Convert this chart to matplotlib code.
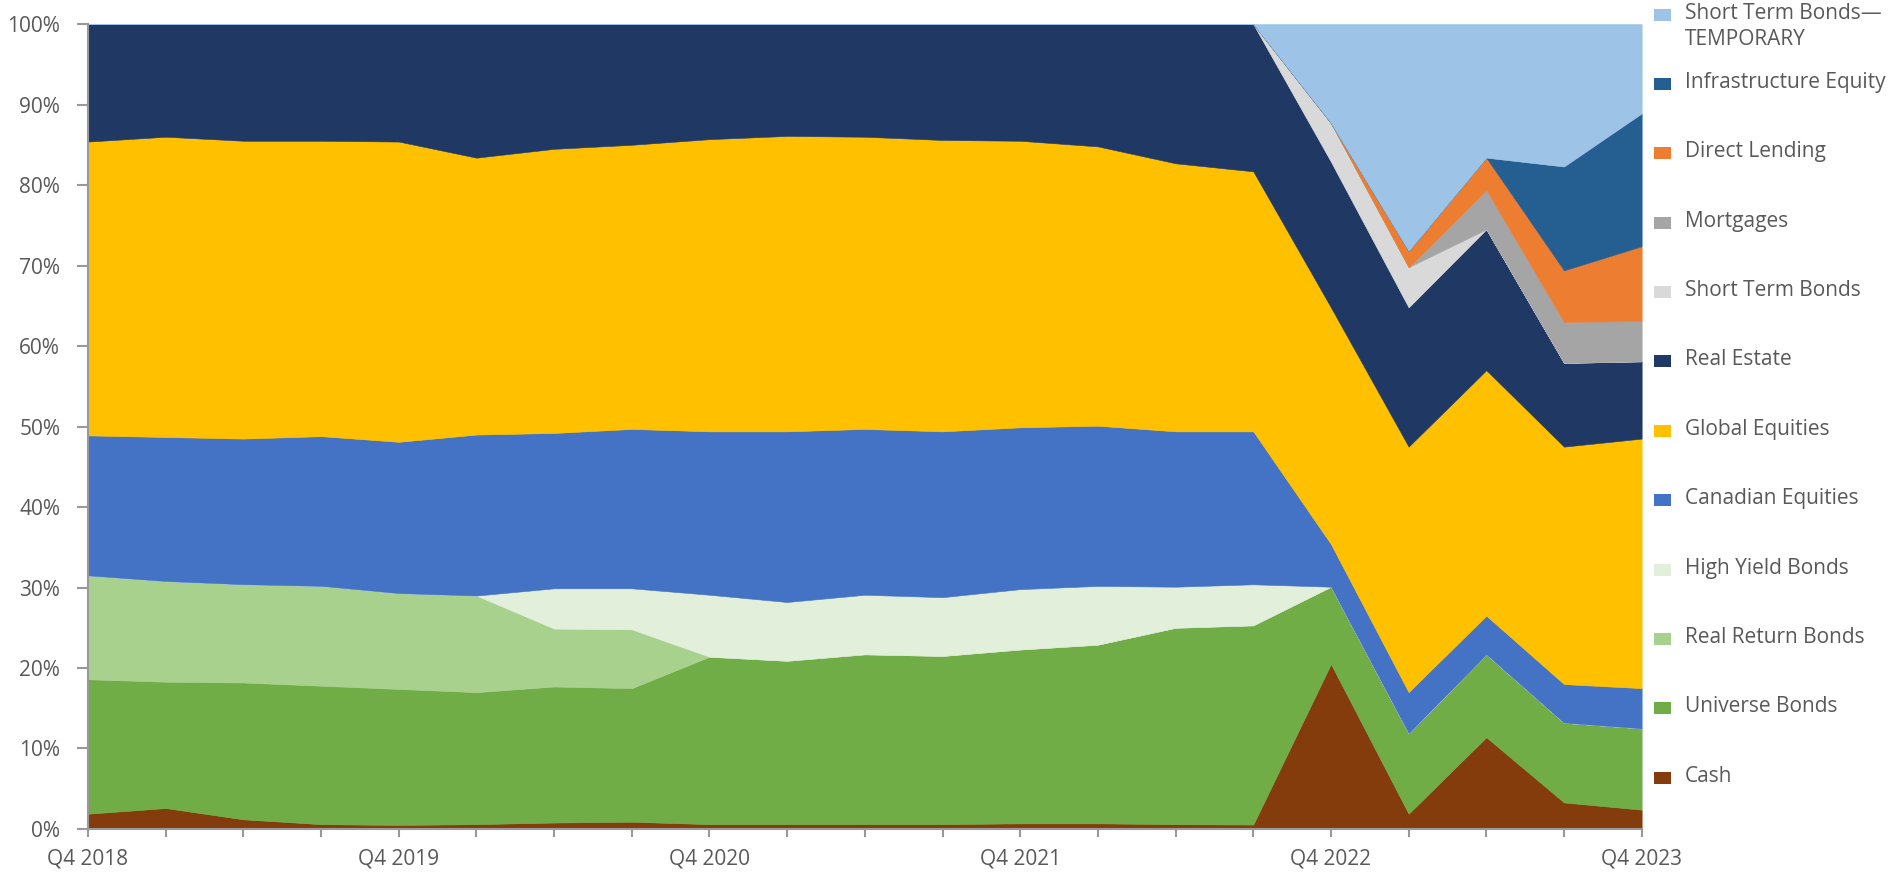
import numpy as np
import matplotlib.pyplot as plt
from matplotlib.patches import Rectangle
from matplotlib.ticker import PercentFormatter

plt.rcParams['font.family'] = ['Open Sans', 'DejaVu Sans']

# Quarters Q4 2018 .. Q4 2023
quarters = ["Q4 2018", "Q1 2019", "Q2 2019", "Q3 2019", "Q4 2019", "Q1 2020", "Q2 2020",
            "Q3 2020", "Q4 2020", "Q1 2021", "Q2 2021", "Q3 2021", "Q4 2021", "Q1 2022",
            "Q2 2022", "Q3 2022", "Q4 2022", "Q1 2023", "Q2 2023", "Q3 2023", "Q4 2023"]

# Allocation (% of portfolio)
cash = [1.9, 2.6, 1.2, 0.6, 0.5, 0.6, 0.8, 0.9, 0.6, 0.6, 0.6, 0.6, 0.7, 0.7, 0.6, 0.55, 20.5, 1.9, 11.4, 3.3, 2.4]
universe_bonds = [16.7, 15.7, 17.0, 17.2, 16.9, 16.4, 16.9, 16.6, 20.8, 20.3, 21.1, 20.9, 21.6, 22.2, 24.4, 24.75, 9.6, 10.0, 10.3, 9.9, 10.1]
real_return_bonds = [12.9, 12.5, 12.2, 12.4, 11.9, 12.0, 7.2, 7.3, 0, 0, 0, 0, 0, 0, 0, 0, 0, 0, 0, 0, 0]
high_yield_bonds = [0, 0, 0, 0, 0, 0, 5.0, 5.1, 7.7, 7.3, 7.4, 7.3, 7.5, 7.3, 5.1, 5.1, 0, 0, 0, 0, 0]
canadian_equities = [17.4, 17.9, 18.1, 18.6, 18.8, 20.0, 19.3, 19.8, 20.3, 21.2, 20.6, 20.6, 20.1, 19.9, 19.3, 19.0, 5.3, 5.1, 4.8, 4.8, 5.0]
global_equities = [36.5, 37.3, 37.0, 36.7, 37.3, 34.4, 35.3, 35.3, 36.3, 36.7, 36.3, 36.2, 35.6, 34.7, 33.3, 32.3, 29.4, 30.5, 30.5, 29.5, 31.0]
real_estate = [14.6, 14.0, 14.5, 14.5, 14.6, 16.6, 15.5, 15.0, 14.3, 13.9, 14.0, 14.4, 14.5, 15.2, 17.3, 18.3, 18.1, 17.3, 17.5, 10.4, 9.6]
short_term_bonds = [0, 0, 0, 0, 0, 0, 0, 0, 0, 0, 0, 0, 0, 0, 0, 0, 4.8, 5.0, 0, 0, 0]
mortgages = [0, 0, 0, 0, 0, 0, 0, 0, 0, 0, 0, 0, 0, 0, 0, 0, 0, 0, 4.9, 5.1, 5.0]
direct_lending = [0, 0, 0, 0, 0, 0, 0, 0, 0, 0, 0, 0, 0, 0, 0, 0, 0, 2.0, 4.0, 6.4, 9.3]
infrastructure_equity = [0, 0, 0, 0, 0, 0, 0, 0, 0, 0, 0, 0, 0, 0, 0, 0, 0, 0, 0, 12.9, 16.5]
short_term_temp = [0, 0, 0, 0, 0, 0, 0, 0, 0, 0, 0, 0, 0, 0, 0, 0, 12.3, 28.2, 16.6, 17.7, 11.1]

series = [cash, universe_bonds, real_return_bonds, high_yield_bonds, canadian_equities,
          global_equities, real_estate, short_term_bonds, mortgages, direct_lending,
          infrastructure_equity, short_term_temp]
labels = ["Cash", "Universe Bonds", "Real Return Bonds", "High Yield Bonds", "Canadian Equities",
          "Global Equities", "Real Estate", "Short Term Bonds", "Mortgages", "Direct Lending",
          "Infrastructure Equity", "Short Term Bonds\u2014\nTEMPORARY"]
colors = ["#843C0C", "#70AD47", "#A9D18E", "#E2EFDA", "#4472C4", "#FFC000",
          "#203864", "#D9D9D9", "#A5A5A5", "#ED7D31", "#255E91", "#9DC3E6"]

x = np.arange(len(quarters))
text_color = "#595959"
axis_color = "#999999"

fig = plt.figure(figsize=(18.97, 8.74), dpi=100)
ax = fig.add_axes([0.0464, 0.0515, 0.819, 0.921])

ax.stackplot(x, np.array(series) / 100.0, colors=colors, edgecolor="face", linewidth=0.4)

ax.set_xlim(0, len(quarters) - 1)
ax.set_ylim(0, 1)
ax.yaxis.set_major_formatter(PercentFormatter(1.0, decimals=0))
ax.set_yticks(np.arange(0, 1.01, 0.1))
ax.set_xticks(x)
ax.set_xticklabels([q if q.startswith("Q4") else "" for q in quarters])

for side in ["top", "right"]:
    ax.spines[side].set_visible(False)
for side in ["left", "bottom"]:
    ax.spines[side].set_color(axis_color)
    ax.spines[side].set_linewidth(1.5)
ax.tick_params(axis="both", colors=axis_color, width=1.5, labelsize=15, labelcolor=text_color)
ax.tick_params(axis="y", length=8, pad=12)
ax.tick_params(axis="x", length=6, pad=8)

# Legend, top to bottom in reverse stack order
y0 = 0.9834
step = 0.0794
for k, (lab, col) in enumerate(zip(labels[::-1], colors[::-1])):
    yc = y0 - k * step
    fig.add_artist(Rectangle((1654 / 1897, yc - 6 / 874), 17 / 1897, 12 / 874,
                             transform=fig.transFigure, facecolor=col, edgecolor="none"))
    fig.text(1685 / 1897, yc + 12 / 874, lab, ha="left", va="top", fontsize=15,
             color=text_color, linespacing=1.35)

fig.savefig("out.png", dpi=100)
